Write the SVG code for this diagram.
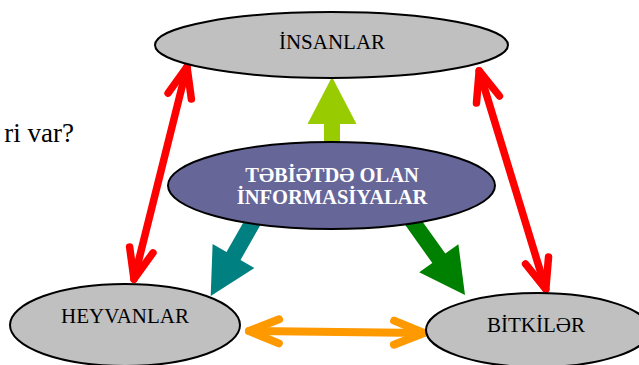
<svg xmlns="http://www.w3.org/2000/svg" width="639" height="365" viewBox="0 0 639 365">
<style>
.node{stroke:#000;stroke-width:2}
.gray{fill:#C0C0C0}
.main{fill:#666699}
.lbl{font-family:"Liberation Serif","DejaVu Serif","Times New Roman",serif;font-size:21px;fill:#000;text-anchor:middle}
.mlbl{font-family:"Liberation Serif","DejaVu Serif","Times New Roman",serif;font-size:20.5px;font-weight:bold;fill:#fff;text-anchor:middle}
.red{stroke:#FF0000;stroke-width:7.5;stroke-linecap:round;fill:none}
.orange{stroke:#FF9900;stroke-width:8;stroke-linecap:round;fill:none}
</style>
<defs>
<marker id="hr" markerUnits="userSpaceOnUse" orient="auto-start-reverse" overflow="visible" refX="0" refY="0" markerWidth="1" markerHeight="1">
<path d="M-30,-12 L0,0 L-30,12" fill="none" stroke="#FF0000" stroke-width="7.5" stroke-linecap="round" stroke-linejoin="round"/>
</marker>
<marker id="ho" markerUnits="userSpaceOnUse" orient="auto-start-reverse" overflow="visible" refX="0" refY="0" markerWidth="1" markerHeight="1">
<path d="M-30,-12 L0,0 L-30,12" fill="none" stroke="#FF9900" stroke-width="8" stroke-linecap="round" stroke-linejoin="round"/>
</marker>
</defs>
<rect width="639" height="365" fill="#fff"/>
<text x="74" y="142" font-family="'Liberation Serif','DejaVu Serif','Times New Roman',serif" font-size="27" text-anchor="end" fill="#000">ri var?</text>
<g id="connectors">
<polygon fill="#99CC00" points="340,160 340,124 356.5,124 332,77 307.5,124 324,124 324,160"/>
<polygon fill="#008080" points="270.3,207.8 240.5,260 254.4,267.9 210.7,296 212.6,244.1 226.5,252 256.3,199.8"/>
<polygon fill="#008000" points="410.4,204.7 445.3,253.6 458.4,244.3 465,295 419.2,272.3 432.3,263 397.4,214.1"/>
<line class="red" x1="187" y1="66.9" x2="134" y2="279.1" marker-start="url(#hr)" marker-end="url(#hr)"/>
<line class="red" x1="479.2" y1="70.8" x2="545.8" y2="289.2" marker-start="url(#hr)" marker-end="url(#hr)"/>
<line class="orange" x1="249" y1="331" x2="424" y2="333" marker-start="url(#ho)" marker-end="url(#ho)"/>
</g>
<g id="insanlar">
<ellipse class="node gray" cx="331.5" cy="45" rx="176.5" ry="33"/>
<text class="lbl" x="332" y="49">İNSANLAR</text>
</g>
<g id="tebietde">
<ellipse class="node main" cx="331.5" cy="185.5" rx="163.5" ry="43.5"/>
<text class="mlbl" x="332" y="182">TƏBİƏTDƏ OLAN</text>
<text class="mlbl" x="332" y="204">İNFORMASİYALAR</text>
</g>
<g id="heyvanlar">
<ellipse class="node gray" cx="125" cy="325" rx="115" ry="41"/>
<text class="lbl" x="125" y="323">HEYVANLAR</text>
</g>
<g id="bitkiler">
<ellipse class="node gray" cx="538" cy="330" rx="112" ry="37"/>
<text class="lbl" x="536" y="332">BİTKİLƏR</text>
</g>
</svg>
